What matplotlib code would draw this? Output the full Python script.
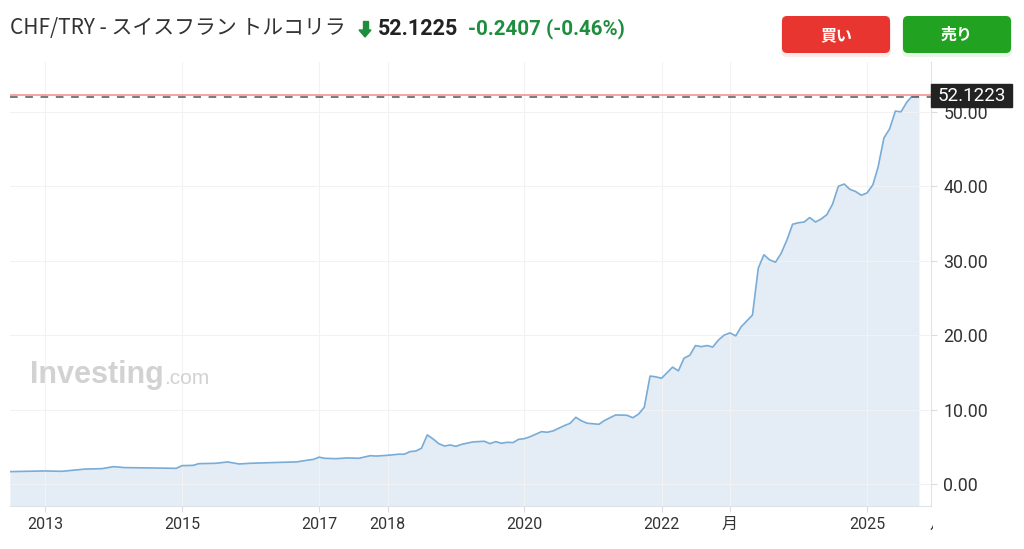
import numpy as np
import pandas as pd
import matplotlib.pyplot as plt
import matplotlib.dates as mdates
from matplotlib.patches import FancyBboxPatch, Rectangle, Polygon
from matplotlib.transforms import Bbox

plt.rcParams['font.family'] = ['Noto Sans CJK JP', 'DejaVu Sans']

# 月次レート (CHF/TRY)
months = [
    "2012-07", "2013-01", "2013-04", "2013-08", "2013-11", "2014-01", "2014-03", "2014-08",
    "2014-12", "2015-01", "2015-03", "2015-04", "2015-07", "2015-09", "2015-11", "2016-01",
    "2016-06", "2016-09", "2016-11", "2016-12", "2017-01", "2017-02", "2017-04", "2017-06",
    "2017-08", "2017-10", "2017-11", "2018-01", "2018-03", "2018-04", "2018-05", "2018-06",
    "2018-07", "2018-08", "2018-09", "2018-10", "2018-11", "2018-12", "2019-01", "2019-02",
    "2019-04", "2019-06", "2019-07", "2019-08", "2019-09", "2019-10", "2019-11", "2019-12",
    "2020-01", "2020-02", "2020-04", "2020-05", "2020-06", "2020-08", "2020-09", "2020-10",
    "2020-11", "2020-12", "2021-02", "2021-03", "2021-04", "2021-05", "2021-07", "2021-08",
    "2021-09", "2021-10", "2021-11", "2021-12", "2022-01", "2022-03", "2022-04", "2022-05",
    "2022-06", "2022-07", "2022-08", "2022-09", "2022-10", "2022-11", "2022-12", "2023-01",
    "2023-02", "2023-03", "2023-05", "2023-06", "2023-07", "2023-08", "2023-09", "2023-10",
    "2023-11", "2023-12", "2024-01", "2024-02", "2024-03", "2024-04", "2024-05", "2024-06",
    "2024-07", "2024-08", "2024-09", "2024-10", "2024-11", "2024-12", "2025-01", "2025-02",
    "2025-03", "2025-04", "2025-05", "2025-06", "2025-07", "2025-08", "2025-09", "2025-10",
]
rates = [
    1.66, 1.75, 1.70, 2.00, 2.06, 2.33, 2.20, 2.15,
    2.10, 2.46, 2.50, 2.73, 2.78, 2.96, 2.69, 2.78,
    2.90, 2.96, 3.20, 3.30, 3.60, 3.45, 3.40, 3.50,
    3.45, 3.80, 3.75, 3.85, 4.00, 4.00, 4.35, 4.43,
    4.80, 6.59, 6.05, 5.42, 5.10, 5.24, 5.06, 5.33,
    5.65, 5.74, 5.42, 5.69, 5.47, 5.60, 5.56, 6.00,
    6.09, 6.36, 7.03, 6.95, 7.12, 7.84, 8.16, 8.96,
    8.47, 8.16, 8.02, 8.50, 8.90, 9.27, 9.23, 8.90,
    9.40, 10.30, 14.50, 14.40, 14.20, 15.70, 15.20, 16.90,
    17.30, 18.60, 18.45, 18.60, 18.40, 19.35, 20.00, 20.30,
    19.90, 21.10, 22.70, 29.00, 30.80, 30.10, 29.80, 31.00,
    32.80, 34.90, 35.10, 35.20, 35.80, 35.20, 35.60, 36.20,
    37.60, 40.00, 40.30, 39.60, 39.30, 38.80, 39.10, 40.20,
    42.60, 46.50, 47.70, 50.10, 50.00, 51.30, 52.20, 52.12,
]
last_price = 52.1223
tick_dates = ["2013-01-01", "2015-01-01", "2017-01-01", "2018-01-01", "2020-01-01",
              "2022-01-01", "2023-01-01", "2025-01-01"]
tick_labels = ["2013", "2015", "2017", "2018", "2020", "2022", "月", "2025"]
y_ticks = [0, 10, 20, 30, 40, 50]

dates = pd.to_datetime(months)

W, H = 1024, 549
fig = plt.figure(figsize=(W / 100, H / 100), dpi=100)
fig.patch.set_facecolor('white')

# メインのチャート
ax = fig.add_axes([10 / W, 1 - 506 / H, (931 - 10) / W, (506 - 62) / H])
ax.fill_between(dates, rates, -10, color='#e4edf5', zorder=1)
ax.plot(dates, rates, color='#79acd6', lw=1.2, zorder=2)
ax.axhline(52.3, color='#f4a3a3', lw=1.4, zorder=3)
ax.axhline(52.02, color='#555555', lw=1.1, ls=(0, (5, 5)), zorder=3)

ax.set_xlim(pd.Timestamp("2012-06-28"), pd.Timestamp("2025-12-08"))
ax.set_ylim(-2.96, 56.7)

ax.set_xticks(pd.to_datetime(tick_dates))
ax.set_xticklabels(tick_labels, fontsize=11.5, color='#333333', family=['Roboto', 'Noto Sans CJK JP'])
ax.yaxis.tick_right()
ax.set_yticks(y_ticks)
ax.set_yticklabels([f"{v:.2f}" for v in y_ticks], fontsize=12.8, color='#333333', family='Roboto')
ax.tick_params(axis='both', length=4, color='#d8dde3', pad=4)
ax.tick_params(axis='y', pad=5)
ax.grid(True, color='#f2f2f2', lw=0.8, zorder=0)
for side in ['top', 'left']:
    ax.spines[side].set_visible(False)
for side in ['right', 'bottom']:
    ax.spines[side].set_color('#dde3ea')

# 装飾用オーバーレイ (ピクセル座標)
ov = fig.add_axes([0, 0, 1, 1], zorder=5)
ov.set_xlim(0, W)
ov.set_ylim(H, 0)
ov.axis('off')
ov.patch.set_alpha(0)

# タイトル
ov.text(10, 28, "CHF/TRY - スイスフラン トルコリラ", fontsize=15, color='#333333', va='center')
ov.add_patch(Polygon([[359, 30], [371, 30], [365, 37]], closed=True, color='#1e8e3e'))
ov.add_patch(Rectangle((362.5, 21), 5, 10, color='#1e8e3e'))
ov.text(378, 29, "52.1225", fontsize=15.5, fontweight='bold', color='#222222', va='center', family='Roboto')
ov.text(468, 29, "-0.2407 (-0.46%)", fontsize=14.8, fontweight='bold', color='#1e8e3e', va='center', family='Roboto')

# ボタン
for x0, col, label in [(782, '#e8352f', "買い"), (903, '#21a321', "売り")]:
    ov.add_patch(FancyBboxPatch((x0 - 1, 18), 110, 39, boxstyle="round,pad=0,rounding_size=6",
                                color=col, alpha=0.10, lw=0))
    ov.add_patch(FancyBboxPatch((x0, 16), 108, 37, boxstyle="round,pad=0,rounding_size=5",
                                color=col, lw=0))
    ov.text(x0 + 54, 35, label, fontsize=11.5, fontweight='bold', color='white', ha='center', va='center')

# 現在値タグ
ov.add_patch(Rectangle((931, 84), 81, 23, color='#222222'))
ov.text(971.5, 96, f"{last_price:.4f}", fontsize=13.5, color='white', ha='center', va='center', family='Roboto')

# 右端で切れた目盛りラベル
t = ov.text(938, 524, "月", fontsize=11.5, color='#333333', ha='center', va='center')
t.set_clip_on(True)
t.set_clip_box(Bbox.from_extents(0, 0, 933, H))

# ウォーターマーク
ov.text(30, 375, "Investing", fontsize=22, fontweight='bold', color='#d2d2d2', va='center', family='Liberation Sans')
ov.text(164, 379, ".com", fontsize=15, color='#d2d2d2', va='center', family='Liberation Sans')

fig.savefig("out.png", dpi=100)
